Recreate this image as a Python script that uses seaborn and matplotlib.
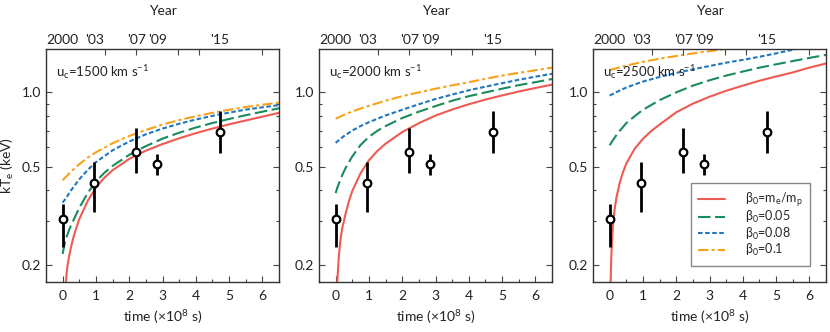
import numpy as np
import pandas as pd
import seaborn as sns
import matplotlib.pyplot as plt
from matplotlib.ticker import LogLocator, NullFormatter, FixedLocator, MultipleLocator

# observed temperatures (time in units of 1e8 s)
obs_t = [0.0, 0.95, 2.21, 2.84, 4.73]
obs_kt = [0.305, 0.427, 0.574, 0.514, 0.69]
obs_lo = [0.235, 0.327, 0.471, 0.463, 0.567]
obs_hi = [0.353, 0.52, 0.716, 0.562, 0.842]

# top axis (year) labels and tick marks
year_pos = [0.0, 0.95, 2.21, 2.84, 4.73]
year_labels = ['2000', "'03", "'07", "'09", "'15"]
year_marks = [1.26, 2.21, 3.47, 4.10, 6.00]

speeds = [1500, 2000, 2500]

# model curves
# u_c = 1500
red_1500_t = [0.09, 0.1, 0.12, 0.15, 0.2, 0.25, 0.35, 0.5, 0.75, 1, 1.25, 1.5, 2, 2.5, 3, 3.5, 4, 4.5, 5, 5.5, 6, 6.5]
red_1500_kt = [0.155, 0.168, 0.185, 0.2, 0.218, 0.235, 0.266, 0.306, 0.362, 0.411, 0.45, 0.483, 0.537, 0.58,
               0.617, 0.651, 0.683, 0.713, 0.742, 0.769, 0.797, 0.826]
green_1500_t = [0, 0.05, 0.1, 0.2, 0.3, 0.5, 0.75, 1, 1.25, 1.5, 2, 2.5, 3, 3.5, 4, 4.5, 5, 5.5, 6, 6.5]
green_1500_kt = [0.221, 0.24, 0.255, 0.278, 0.298, 0.34, 0.39, 0.435, 0.471, 0.503, 0.558, 0.605, 0.649,
                 0.686, 0.72, 0.751, 0.78, 0.808, 0.835, 0.862]
blue_1500_t = [0, 0.1, 0.25, 0.5, 0.75, 1, 1.5, 2, 2.5, 3, 3.5, 4, 4.5, 5, 5.5, 6, 6.5]
blue_1500_kt = [0.357, 0.372, 0.4, 0.444, 0.484, 0.521, 0.582, 0.632, 0.676, 0.713, 0.746, 0.776, 0.803,
                0.828, 0.851, 0.87, 0.888]
orange_1500_t = [0, 0.1, 0.25, 0.5, 0.75, 1, 1.5, 2, 2.5, 3, 3.5, 4, 4.5, 5, 5.5, 6, 6.5]
orange_1500_kt = [0.44, 0.454, 0.477, 0.511, 0.543, 0.571, 0.622, 0.665, 0.704, 0.74, 0.772, 0.8, 0.826,
                  0.85, 0.872, 0.891, 0.909]

# u_c = 2000
red_2000_t = [0.03, 0.05, 0.07, 0.1, 0.15, 0.2, 0.3, 0.4, 0.5, 0.75, 1, 1.25, 1.5, 2, 2.5, 3, 3.5, 4, 4.5,
              5, 5.5, 6, 6.5]
red_2000_kt = [0.15, 0.17, 0.19, 0.22, 0.255, 0.282, 0.322, 0.362, 0.398, 0.47, 0.53, 0.578, 0.619, 0.69,
               0.75, 0.805, 0.852, 0.895, 0.935, 0.972, 1.008, 1.042, 1.075]
green_2000_t = [0, 0.05, 0.1, 0.2, 0.3, 0.5, 0.75, 1, 1.25, 1.5, 2, 2.5, 3, 3.5, 4, 4.5, 5, 5.5, 6, 6.5]
green_2000_kt = [0.39, 0.41, 0.428, 0.462, 0.494, 0.55, 0.612, 0.66, 0.698, 0.73, 0.787, 0.835, 0.88, 0.925,
                 0.965, 1.0, 1.035, 1.07, 1.1, 1.133]
blue_2000_t = [0, 0.1, 0.25, 0.5, 0.75, 1, 1.5, 2, 2.5, 3, 3.5, 4, 4.5, 5, 5.5, 6, 6.5]
blue_2000_kt = [0.624, 0.64, 0.665, 0.7, 0.73, 0.757, 0.806, 0.85, 0.895, 0.94, 0.98, 1.02, 1.055, 1.09,
                1.125, 1.158, 1.19]
orange_2000_t = [0, 0.25, 0.5, 0.75, 1, 1.5, 2, 2.5, 3, 3.5, 4, 4.5, 5, 5.5, 6, 6.5]
orange_2000_kt = [0.782, 0.81, 0.837, 0.86, 0.882, 0.925, 0.965, 1.0, 1.035, 1.068, 1.1, 1.135, 1.17, 1.2,
                  1.23, 1.26]

# u_c = 2500
red_2500_t = [0.02, 0.03, 0.05, 0.07, 0.1, 0.15, 0.2, 0.3, 0.4, 0.5, 0.75, 1, 1.25, 1.5, 2, 2.5, 3, 3.5, 4,
              4.5, 5, 5.5, 6, 6.5]
red_2500_kt = [0.15, 0.17, 0.215, 0.248, 0.29, 0.335, 0.372, 0.428, 0.474, 0.514, 0.59, 0.648, 0.697, 0.74,
               0.83, 0.9, 0.96, 1.015, 1.065, 1.115, 1.16, 1.205, 1.26, 1.31]
green_2500_t = [0, 0.1, 0.25, 0.5, 0.75, 1, 1.5, 2, 2.5, 3, 3.5, 4, 4.5, 5, 5.5, 6, 6.5]
green_2500_kt = [0.61, 0.64, 0.685, 0.75, 0.8, 0.85, 0.93, 1.0, 1.065, 1.12, 1.17, 1.215, 1.26, 1.3, 1.34,
                 1.38, 1.42]
blue_2500_t = [0, 0.25, 0.5, 0.75, 1, 1.5, 2, 2.5, 3, 3.5, 4, 4.5, 5, 5.5, 6]
blue_2500_kt = [0.971, 1.01, 1.046, 1.077, 1.106, 1.155, 1.2, 1.24, 1.28, 1.32, 1.355, 1.395, 1.44, 1.49,
                1.535]
orange_2500_t = [0, 0.5, 1, 1.5, 2, 2.5, 3, 3.5, 4]
orange_2500_kt = [1.232, 1.285, 1.33, 1.37, 1.405, 1.44, 1.47, 1.5, 1.53]

curves = {
    1500: [(red_1500_t, red_1500_kt), (green_1500_t, green_1500_kt),
           (blue_1500_t, blue_1500_kt), (orange_1500_t, orange_1500_kt)],
    2000: [(red_2000_t, red_2000_kt), (green_2000_t, green_2000_kt),
           (blue_2000_t, blue_2000_kt), (orange_2000_t, orange_2000_kt)],
    2500: [(red_2500_t, red_2500_kt), (green_2500_t, green_2500_kt),
           (blue_2500_t, blue_2500_kt), (orange_2500_t, orange_2500_kt)],
}

beta_labels = [r'$\beta_0$=m$_e$/m$_p$', r'$\beta_0$=0.05', r'$\beta_0$=0.08', r'$\beta_0$=0.1']
colors = ['#ef5a52', '#1a8c5b', '#1f77c0', '#f7a21b']
styles = ['-', (0, (6, 2.2)), (0, (2.2, 1.2)), (0, (5, 1.5, 1.5, 1.5))]

sns.set_style('ticks')
plt.rcParams['font.family'] = ['Lato', 'DejaVu Sans']
plt.rcParams['mathtext.fontset'] = 'custom'
plt.rcParams['mathtext.rm'] = 'Lato'
plt.rcParams['mathtext.it'] = 'Lato:italic'
plt.rcParams['mathtext.default'] = 'regular'
plt.rcParams['font.size'] = 10

fig = plt.figure(figsize=(8.3, 3.32), dpi=100)
lefts = [46 / 830, 319 / 830, 593 / 830]
axs = [fig.add_axes([l, 0.1506, 233 / 830, 0.7018]) for l in lefts]

for k, (ax, u) in enumerate(zip(axs, speeds)):
    ax.set_yscale('log')
    for (tt, kt), c, ls, lab in zip(curves[u], colors, styles, beta_labels):
        sns.lineplot(x=tt, y=kt, ax=ax, color=c, linestyle=ls, lw=1.5, label=lab, sort=False)
    ax.errorbar(obs_t, obs_kt, yerr=[np.array(obs_kt) - np.array(obs_lo), np.array(obs_hi) - np.array(obs_kt)],
                fmt='o', ms=5.5, mfc='white', mec='black', mew=1.6, ecolor='black', elinewidth=2,
                capsize=0, zorder=5)
    ax.set_xlim(-0.5, 6.5)
    ax.set_ylim(0.17, 1.5)
    ax.set_yticks([0.2, 0.5, 1.0])
    ax.set_yticklabels(['0.2', '0.5', '1.0'])
    ax.yaxis.set_minor_locator(LogLocator(base=10, subs=np.arange(2, 10) * 1.0, numticks=20))
    ax.yaxis.set_minor_formatter(NullFormatter())
    ax.xaxis.set_major_locator(MultipleLocator(1))
    ax.xaxis.set_minor_locator(MultipleLocator(0.5))
    ax.tick_params(which='both', direction='in', right=True, top=False, color='#444', labelsize=10,
                   labelcolor='#222')
    ax.tick_params(which='major', length=4, width=0.8)
    ax.tick_params(which='minor', length=2.5, width=0.8)
    ax.tick_params(axis='x', pad=6)
    for s in ax.spines.values():
        s.set_color('#333')
        s.set_linewidth(1.0)
    ax.set_xlabel(r'time ($\times$10$^8$ s)', fontsize=10, color='#222')
    ax.set_ylabel('')
    ax.text(0.045, 0.9, 'u$_c$=%d km s$^{-1}$' % u, transform=ax.transAxes, fontsize=9.5,
            color='#222', va='center')

    top = ax.twiny()
    top.set_xlim(ax.get_xlim())
    top.xaxis.remove_overlapping_locs = False
    top.xaxis.set_major_locator(FixedLocator(year_marks))
    top.xaxis.set_major_formatter(NullFormatter())
    top.xaxis.set_minor_locator(FixedLocator(year_pos))
    top.set_xticklabels(year_labels, minor=True)
    top.tick_params(which='major', direction='in', length=4, width=0.8, color='#444')
    top.tick_params(which='minor', length=0, labelsize=10, labelcolor='#222', pad=2)
    top.set_xlabel('Year', fontsize=10, color='#222', labelpad=14)
    for s in top.spines.values():
        s.set_visible(False)

    if k == 2:
        leg = ax.legend(loc='lower right', bbox_to_anchor=(0.931, 0.069), fontsize=9, frameon=True,
                        fancybox=False, edgecolor='#888', framealpha=1, handlelength=2.1,
                        handletextpad=1.6, labelspacing=0.03, borderaxespad=0, borderpad=0.6)
        leg.get_frame().set_linewidth(1.0)
    else:
        ax.get_legend().remove()

axs[0].set_ylabel('kT$_e$ (keV)', fontsize=10, color='#222', labelpad=4)

fig.savefig('out.png', dpi=100)
